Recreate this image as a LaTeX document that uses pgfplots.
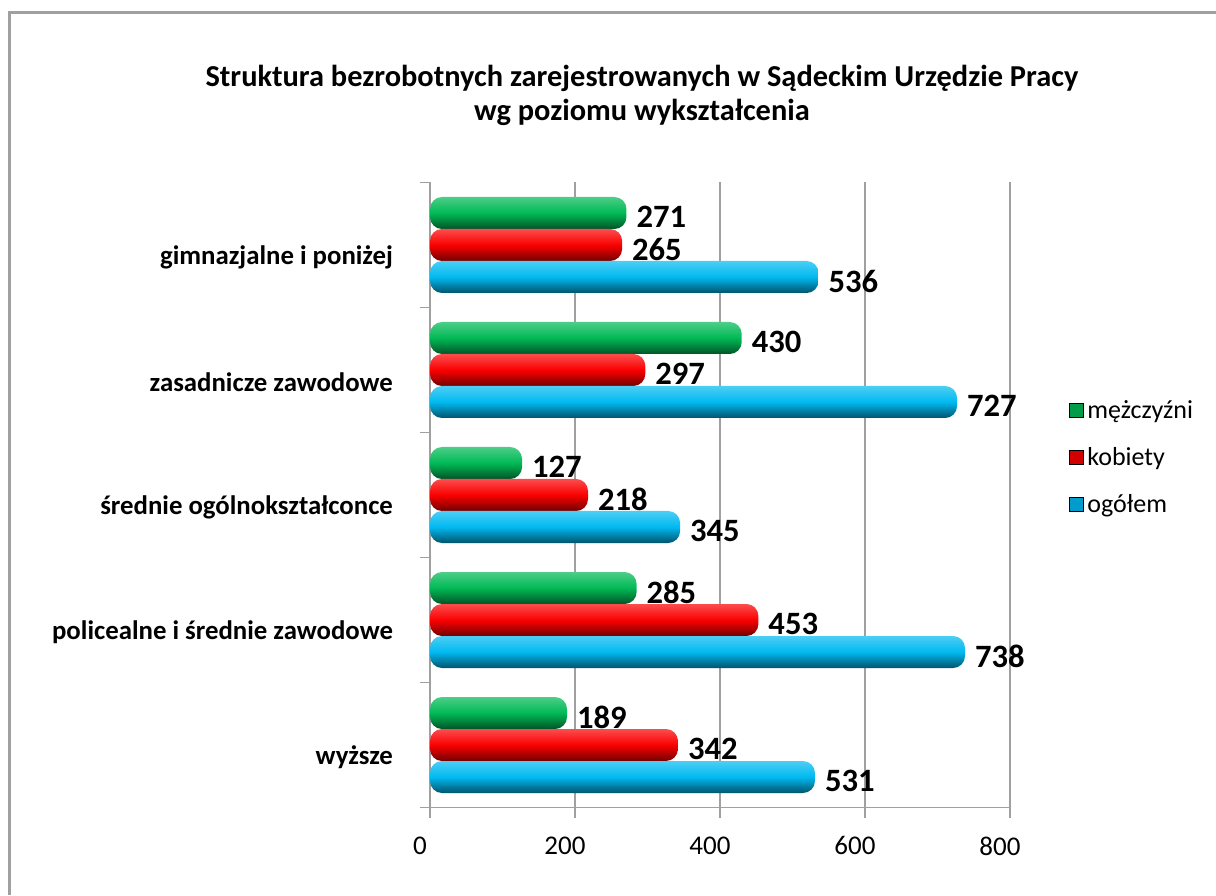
\documentclass[border=0pt]{standalone}
\usepackage{pgfplots}
\pgfplotsset{compat=1.18}
\usepackage{fontspec}
\setmainfont{Carlito}
\definecolor{cgreen}{RGB}{0,185,85}
\definecolor{cred}{RGB}{250,0,0}
\definecolor{cblue}{RGB}{0,185,240}
\definecolor{cgrid}{RGB}{160,160,160}
% one cylinder-like bar: colour, value, shift, category
\newcommand\cbar[4]{%
  \addplot[forget plot, draw=none, bar shift=#3, rounded corners=6pt,
    top color=#1!70!white, bottom color=#1!45!black, middle color=#1]
    coordinates {(#2,#4)};}
\begin{document}
\begin{tikzpicture}
\useasboundingbox (-215pt,-43.75pt) rectangle (393pt,403.75pt);
\draw[cgrid, line width=1.5pt] (-210pt,-43.75pt) -- (-210pt,397.25pt) -- (393pt,397.25pt);
\node[font=\bfseries\fontsize{15.2}{17}\selectfont, align=center] at (106pt,356.25pt)
  {Struktura bezrobotnych zarejestrowanych w Sądeckim Urzędzie Pracy\\wg poziomu wykształcenia};
\begin{axis}[
  at={(0pt,0pt)}, anchor=south west,
  scale only axis, width=290pt, height=312.5pt,
  xbar, bar width=16pt,
  xmin=0, xmax=800, ymin=-0.5, ymax=4.5,
  xtick={0,200,400,600,800},
  ytick={-0.5,0.5,1.5,2.5,3.5,4.5},
  yticklabels={},
  extra y ticks={0,1,2,3,4},
  extra y tick labels={wyższe, policealne i średnie zawodowe, średnie ogólnokształconce, zasadnicze zawodowe, gimnazjalne i poniżej},
  extra y tick style={major tick length=0pt,
    yticklabel style={font=\bfseries\fontsize{13.4}{15}\selectfont, xshift=-15pt, yshift=-6pt}},
  major tick length=5pt,
  tick align=outside,
  axis x line*=bottom, axis y line*=left,
  axis line style={cgrid, line width=0.8pt},
  every tick/.style={cgrid, line width=0.8pt},
  xmajorgrids, grid style={cgrid, line width=0.8pt},
  /pgf/number format/assume math mode=true,
  xticklabel style={font=\fontsize{13.5}{15}\selectfont, xshift=-5pt, yshift=-6pt},
  nodes near coords,
  every node near coord/.append style={font=\bfseries\fontsize{16.3}{18}\selectfont, anchor=west, xshift=1.5pt, yshift=-2pt, black},
  legend style={at={(1.09,0.665)}, anchor=north west, draw=none, fill=none,
     font=\fontsize{13}{15}\selectfont, row sep=9pt},
  legend cell align=left,
  legend image code/.code={\fill[#1, sharp corners] (0pt,-3.5pt) rectangle (7pt,3.5pt);},
  clip=false,
]
% mężczyźni
\cbar{cgreen}{189}{16pt}{0}
\cbar{cgreen}{285}{16pt}{1}
\cbar{cgreen}{127}{16pt}{2}
\cbar{cgreen}{430}{16pt}{3}
\cbar{cgreen}{271}{16pt}{4}
% kobiety
\cbar{cred}{342}{0pt}{0}
\cbar{cred}{453}{0pt}{1}
\cbar{cred}{218}{0pt}{2}
\cbar{cred}{297}{0pt}{3}
\cbar{cred}{265}{0pt}{4}
% ogółem
\cbar{cblue}{531}{-16pt}{0}
\cbar{cblue}{738}{-16pt}{1}
\cbar{cblue}{345}{-16pt}{2}
\cbar{cblue}{727}{-16pt}{3}
\cbar{cblue}{536}{-16pt}{4}
\addlegendimage{fill=cgreen!85!black}
\addlegendentry{mężczyźni}
\addlegendimage{fill=cred!85!black}
\addlegendentry{kobiety}
\addlegendimage{fill=cblue!85!black}
\addlegendentry{ogółem}
\end{axis}
\end{tikzpicture}
\end{document}
